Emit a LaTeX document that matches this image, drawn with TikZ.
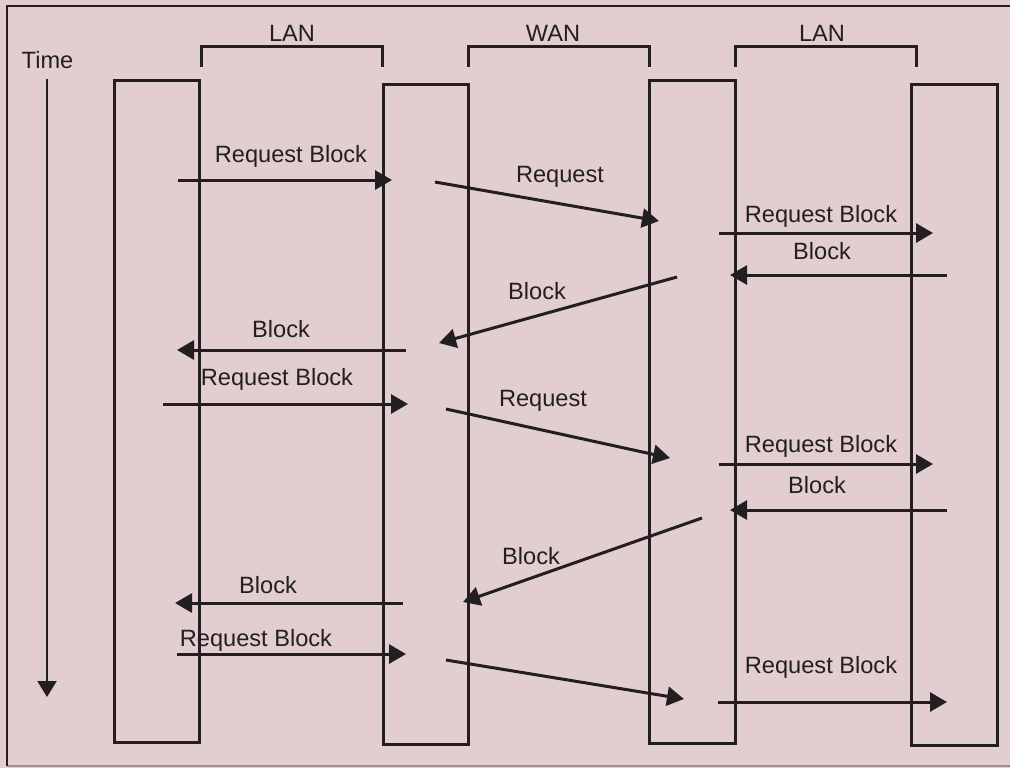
\documentclass[tikz,border=0pt]{standalone}
\usepackage{fontspec}
\setmainfont{Liberation Sans}
\usetikzlibrary{arrows.meta}
\definecolor{bg}{HTML}{E2CDD0}
\definecolor{ink}{HTML}{231F20}
\definecolor{rim}{HTML}{9C9294}
\tikzset{
  lifeline/.style={draw=ink, line width=1.5pt},
  bracket/.style={draw=ink, line width=1.5pt},
  msg/.style={draw=ink, line width=1.5pt, -{Triangle[length=8.5pt,width=9.5pt]}},
  lbl/.style={text=ink, anchor=base, inner sep=0pt, font=\fontsize{11.8}{13}\selectfont},
}
\begin{document}
\begin{tikzpicture}[x=0.5pt,y=-0.5pt]
\useasboundingbox (0,0) rectangle (1010,768);
\fill[bg] (0,0) rectangle (1010,768);
% frame
\coordinate (ftl) at (7,6);
\coordinate (ftr) at (1012,6);
\coordinate (fbl) at (7,766);
\coordinate (fbr) at (1012,766);
\draw[rim, line width=1pt] (fbl) -- (fbr);
\draw[ink, line width=1.2pt] (fbl) -- (ftl) -- (ftr);
% lifelines
\coordinate (r1a) at (114,80);  \coordinate (r1b) at (199,742);
\coordinate (r2a) at (383,84);  \coordinate (r2b) at (468,744);
\coordinate (r3a) at (649,80);  \coordinate (r3b) at (735,743);
\coordinate (r4a) at (911,84);  \coordinate (r4b) at (997,745);
\draw[lifeline] (r1a) rectangle (r1b);
\draw[lifeline] (r2a) rectangle (r2b);
\draw[lifeline] (r3a) rectangle (r3b);
\draw[lifeline] (r4a) rectangle (r4b);
% brackets
\draw[bracket] (201,67) |- (382,46) -- (382,67);
\draw[bracket] (468,67) |- (649,46) -- (649,67);
\draw[bracket] (735,67) |- (916,46) -- (916,67);
\node[lbl] (lan1) at (292,41) {LAN};
\node[lbl] (wan) at (553,41) {WAN};
\node[lbl] (lan2) at (822,41) {LAN};
% time
\node[lbl] (time) at (47.5,68) {Time};
\coordinate (t1) at (47,79);
\coordinate (t2) at (47,697);
\draw[draw=ink, line width=1.1pt, -{Triangle[length=8pt,width=9.5pt]}] (t1) -- (t2);
% messages
\coordinate (a1s) at (178,180); \coordinate (a1e) at (392,180);
\draw[msg] (a1s) -- (a1e);
\node[lbl] (l1) at (291,162) {Request Block};
\coordinate (a2s) at (435,182); \coordinate (a2e) at (659,221);
\draw[msg] (a2s) -- (a2e);
\node[lbl] (l2) at (560,182) {Request};
\coordinate (a3s) at (719,233); \coordinate (a3e) at (933,233);
\draw[msg] (a3s) -- (a3e);
\node[lbl] (l3) at (821,222) {Request Block};
\coordinate (a4s) at (947,275); \coordinate (a4e) at (730,275);
\draw[msg] (a4s) -- (a4e);
\node[lbl] (l4) at (822,259) {Block};
\coordinate (a5s) at (677,277); \coordinate (a5e) at (439,343);
\draw[msg] (a5s) -- (a5e);
\node[lbl] (l5) at (537,299) {Block};
\coordinate (a6s) at (406,350); \coordinate (a6e) at (177,350);
\draw[msg] (a6s) -- (a6e);
\node[lbl] (l6) at (281,337) {Block};
\coordinate (a7s) at (163,404); \coordinate (a7e) at (408,404);
\draw[msg] (a7s) -- (a7e);
\node[lbl] (l7) at (277,385) {Request Block};
\coordinate (a8s) at (446,409); \coordinate (a8e) at (670,458);
\draw[msg] (a8s) -- (a8e);
\node[lbl] (l8) at (543,406) {Request};
\coordinate (a9s) at (719,464); \coordinate (a9e) at (933,464);
\draw[msg] (a9s) -- (a9e);
\node[lbl] (l9) at (821,452) {Request Block};
\coordinate (a10s) at (947,510); \coordinate (a10e) at (730,510);
\draw[msg] (a10s) -- (a10e);
\node[lbl] (l10) at (817,493) {Block};
\coordinate (a11s) at (702,518); \coordinate (a11e) at (463,602);
\draw[msg] (a11s) -- (a11e);
\node[lbl] (l11) at (531,564) {Block};
\coordinate (a12s) at (403,603); \coordinate (a12e) at (175,603);
\draw[msg] (a12s) -- (a12e);
\node[lbl] (l12) at (268,593) {Block};
\coordinate (a13s) at (177,654); \coordinate (a13e) at (406,654);
\draw[msg] (a13s) -- (a13e);
\node[lbl] (l13) at (256,646) {Request Block};
\coordinate (a14s) at (446,660); \coordinate (a14e) at (684,699);
\draw[msg] (a14s) -- (a14e);
\coordinate (a15s) at (718,702); \coordinate (a15e) at (947,702);
\draw[msg] (a15s) -- (a15e);
\node[lbl] (l15) at (821,673) {Request Block};
\end{tikzpicture}
\end{document}
